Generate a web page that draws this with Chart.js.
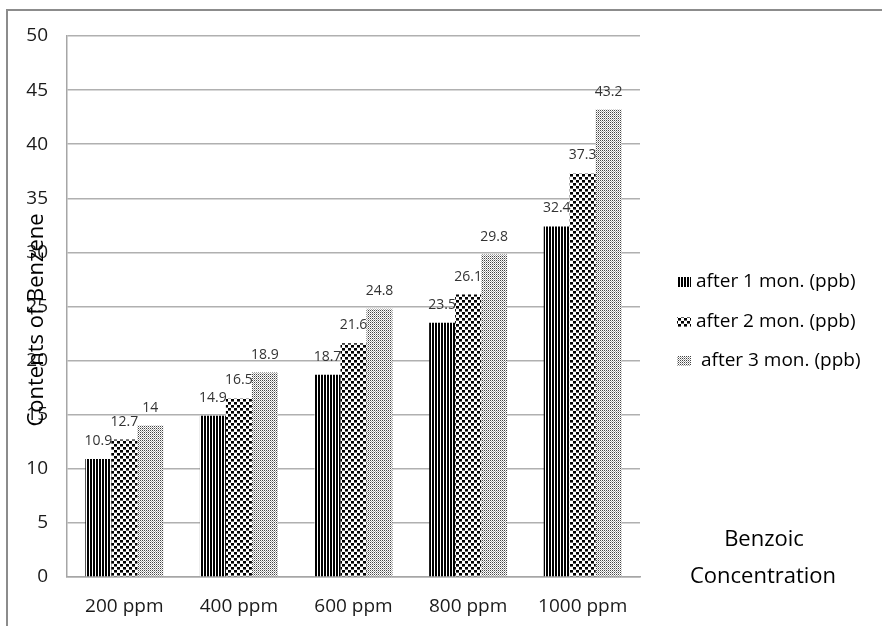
<!DOCTYPE html>
<html>
<head>
<meta charset="utf-8">
<script src="https://cdn.jsdelivr.net/npm/chart.js@4.4.0/dist/chart.umd.min.js"></script>
<style>
  html, body { margin: 0; padding: 0; background: #fff; }
</style>
</head>
<body>
<canvas id="benzeneChart" width="882" height="626"></canvas>
<script>
// values
const categories = ["200 ppm", "400 ppm", "600 ppm", "800 ppm", "1000 ppm"];
const after1Mon = [10.9, 14.9, 18.7, 23.5, 32.4];
const after2Mon = [12.7, 16.5, 21.6, 26.1, 37.3];
const after3Mon = [14, 18.9, 24.8, 29.8, 43.2];
const seriesLabels = ["after 1 mon. (ppb)", "after 2 mon. (ppb)", " after 3 mon. (ppb)"];
const yTitle = "Contents of Benzene";
const xTitleLines = ["Benzoic", "Concentration"];

const FONT = "'Open Sans', 'Liberation Sans', sans-serif";
const canvas = document.getElementById("benzeneChart");
const ctx = canvas.getContext("2d");

function makePattern(w, h, draw) {
    const c = document.createElement("canvas");
    c.width = w;
    c.height = h;
    const g = c.getContext("2d");
    g.fillStyle = "#fff";
    g.fillRect(0, 0, w, h);
    draw(g);
    return ctx.createPattern(c, "repeat");
}

// vertical stripes
const stripes = makePattern(3, 1, (g) => {
    g.fillStyle = "#000";
    g.fillRect(0, 0, 2, 1);
});
// big black dots
const dots = makePattern(6, 6, (g) => {
    g.fillStyle = "#000";
    g.fillRect(0, 0, 3, 2);
    g.fillRect(3, 3, 3, 2);
    g.fillStyle = "#666";
    g.fillRect(0, 2, 3, 1);
    g.fillRect(3, 5, 3, 1);
});
// fine light-grey dots
const fineDots = makePattern(2, 2, (g) => {
    g.fillStyle = "#444";
    g.fillRect(0, 0, 1, 1);
    g.fillStyle = "#aaa";
    g.fillRect(1, 1, 1, 1);
});
const patterns = [stripes, dots, fineDots];

const extrasPlugin = {
    id: "extras",
    beforeDraw(chart) {
        const c = chart.ctx;
        c.save();
        c.fillStyle = "#fff";
        c.fillRect(0, 0, chart.width, chart.height);
        // outer frame (top and left edges only visible)
        c.fillStyle = "#8c8c8c";
        c.fillRect(6, 9, chart.width - 6, 2);
        c.fillRect(6, 9, 2, chart.height - 9);
        c.restore();
    },
    afterDatasetsDraw(chart) {
        const c = chart.ctx;
        c.save();
        // value labels above bars
        c.font = "14px " + FONT;
        c.fillStyle = "#333";
        c.textAlign = "center";
        c.textBaseline = "alphabetic";
        chart.data.datasets.forEach((ds, i) => {
            const meta = chart.getDatasetMeta(i);
            meta.data.forEach((bar, j) => {
                c.fillText(String(ds.data[j]), bar.x, bar.y - 14);
            });
        });

        // y axis title
        c.font = "22px " + FONT;
        c.fillStyle = "#000";
        c.save();
        c.translate(37, 320);
        c.rotate(-Math.PI / 2);
        c.textAlign = "center";
        c.textBaseline = "middle";
        c.fillText(yTitle, 0, 0);
        c.restore();

        // x axis title, sits under the legend
        c.textAlign = "center";
        c.textBaseline = "middle";
        c.fillText(xTitleLines[0], 764, 540);
        c.fillText(xTitleLines[1], 763, 577);

        // legend
        const rows = [282, 322, 361];
        c.font = "19px " + FONT;
        c.textAlign = "left";
        chart.data.datasets.forEach((ds, i) => {
            c.fillStyle = patterns[i];
            c.fillRect(677, rows[i] - 5, 14, 10);
            c.fillStyle = "#000";
            c.fillText(ds.label, 696, rows[i]);
        });
        c.restore();
    },
};

new Chart(canvas, {
    type: "bar",
    data: {
        labels: categories,
        datasets: [
            { label: seriesLabels[0], data: after1Mon, backgroundColor: stripes },
            { label: seriesLabels[1], data: after2Mon, backgroundColor: dots },
            { label: seriesLabels[2], data: after3Mon, backgroundColor: fineDots },
        ],
    },
    options: {
        responsive: false,
        animation: false,
        devicePixelRatio: 1,
        layout: { padding: { top: 36, right: 242, left: 0, bottom: 0 } },
        datasets: {
            bar: { barPercentage: 1, categoryPercentage: 0.68, borderWidth: 0 },
        },
        scales: {
            x: {
                grid: { display: false, drawTicks: false },
                border: { display: true, color: "#a6a6a6", width: 1.5 },
                ticks: { font: { family: FONT, size: 19 }, color: "#1a1a1a", padding: 18, maxRotation: 0 },
                afterFit: (scale) => { scale.height = 49; },
            },
            y: {
                min: 0,
                max: 50,
                ticks: { stepSize: 5, font: { family: FONT, size: 19 }, color: "#1a1a1a", padding: 19 },
                grid: { color: "#b0b0b0", lineWidth: 1.5, drawTicks: false },
                border: { display: true, color: "#a6a6a6", width: 1.5 },
                afterFit: (scale) => { scale.width = 67; },
            },
        },
        plugins: {
            legend: { display: false },
            tooltip: { enabled: false },
        },
    },
    plugins: [extrasPlugin],
});
</script>
</body>
</html>
